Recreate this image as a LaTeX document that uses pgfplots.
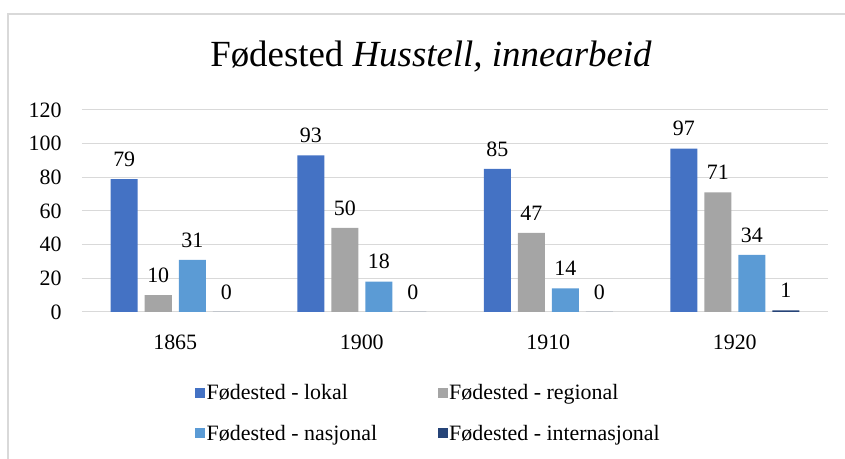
\documentclass[border=0pt]{standalone}
\usepackage{pgfplots}
\pgfplotsset{compat=1.18}
\usepackage{fontspec}
\setmainfont{Liberation Serif}

\definecolor{lokal}{HTML}{4472C4}
\definecolor{regional}{HTML}{A5A5A5}
\definecolor{nasjonal}{HTML}{5B9BD5}
\definecolor{internasjonal}{HTML}{264478}
\definecolor{gridgray}{HTML}{D9D9D9}

\begin{document}
\begin{tikzpicture}[x=1bp,y=1bp]
% canvas 845 x 459 px, axis origin at px (82,312)
\path[use as bounding box] (-82,-147) rectangle (763,312);
\draw[gridgray,line width=1.5bp] (-74,-147) -- (-74,298) -- (763,298);
\node[font=\fontsize{37}{42}\selectfont,anchor=base] at (349,245.5)
  {Fødested \textit{Husstell, innearbeid}};
\begin{axis}[
    at={(0,0)}, anchor=south west,
    scale only axis,
    width=746bp, height=202bp,
    ybar=7bp,
    bar width=27bp,
    ymin=0, ymax=120,
    ytick={0,20,40,60,80,100,120},
    xmin=-0.5, xmax=3.5,
    xtick={0,1,2,3},
    xticklabels={1865,1900,1910,1920},
    axis line style={draw=none},
    ymajorgrids,
    grid style={gridgray,line width=1bp},
    major tick length=0pt,
    tick style={draw=none},
    tick label style={font=\fontsize{22}{26}\selectfont},
    yticklabel style={xshift=-17bp},
    xticklabel style={yshift=-19bp},
    /pgf/number format/assume math mode=true,
    nodes near coords,
    nodes near coords style={font=\fontsize{22}{26}\selectfont,text=black,yshift=9bp},
    legend columns=2,
    legend cell align=left,
    legend style={
        at={(0.1515,-0.5)}, anchor=west,
        draw=none, fill=none, inner sep=0pt,
        font=\fontsize{22}{26}\selectfont,
        nodes={inner xsep=1.5bp},
        /tikz/every even column/.append style={column sep=59bp},
        row sep=20bp,
    },
    legend image code/.code={\fill[#1] (0bp,-5bp) rectangle (10bp,5bp);},
]
\addplot[fill=lokal,draw=none] coordinates {(0,79) (1,93) (2,85) (3,97)};
\addplot[fill=regional,draw=none] coordinates {(0,10) (1,50) (2,47) (3,71)};
\addplot[fill=nasjonal,draw=none] coordinates {(0,31) (1,18) (2,14) (3,34)};
\addplot[fill=internasjonal,draw=none] coordinates {(0,0) (1,0) (2,0) (3,1)};
\legend{Fødested - lokal,Fødested - regional,Fødested - nasjonal,Fødested - internasjonal}
\end{axis}
\end{tikzpicture}
\end{document}
